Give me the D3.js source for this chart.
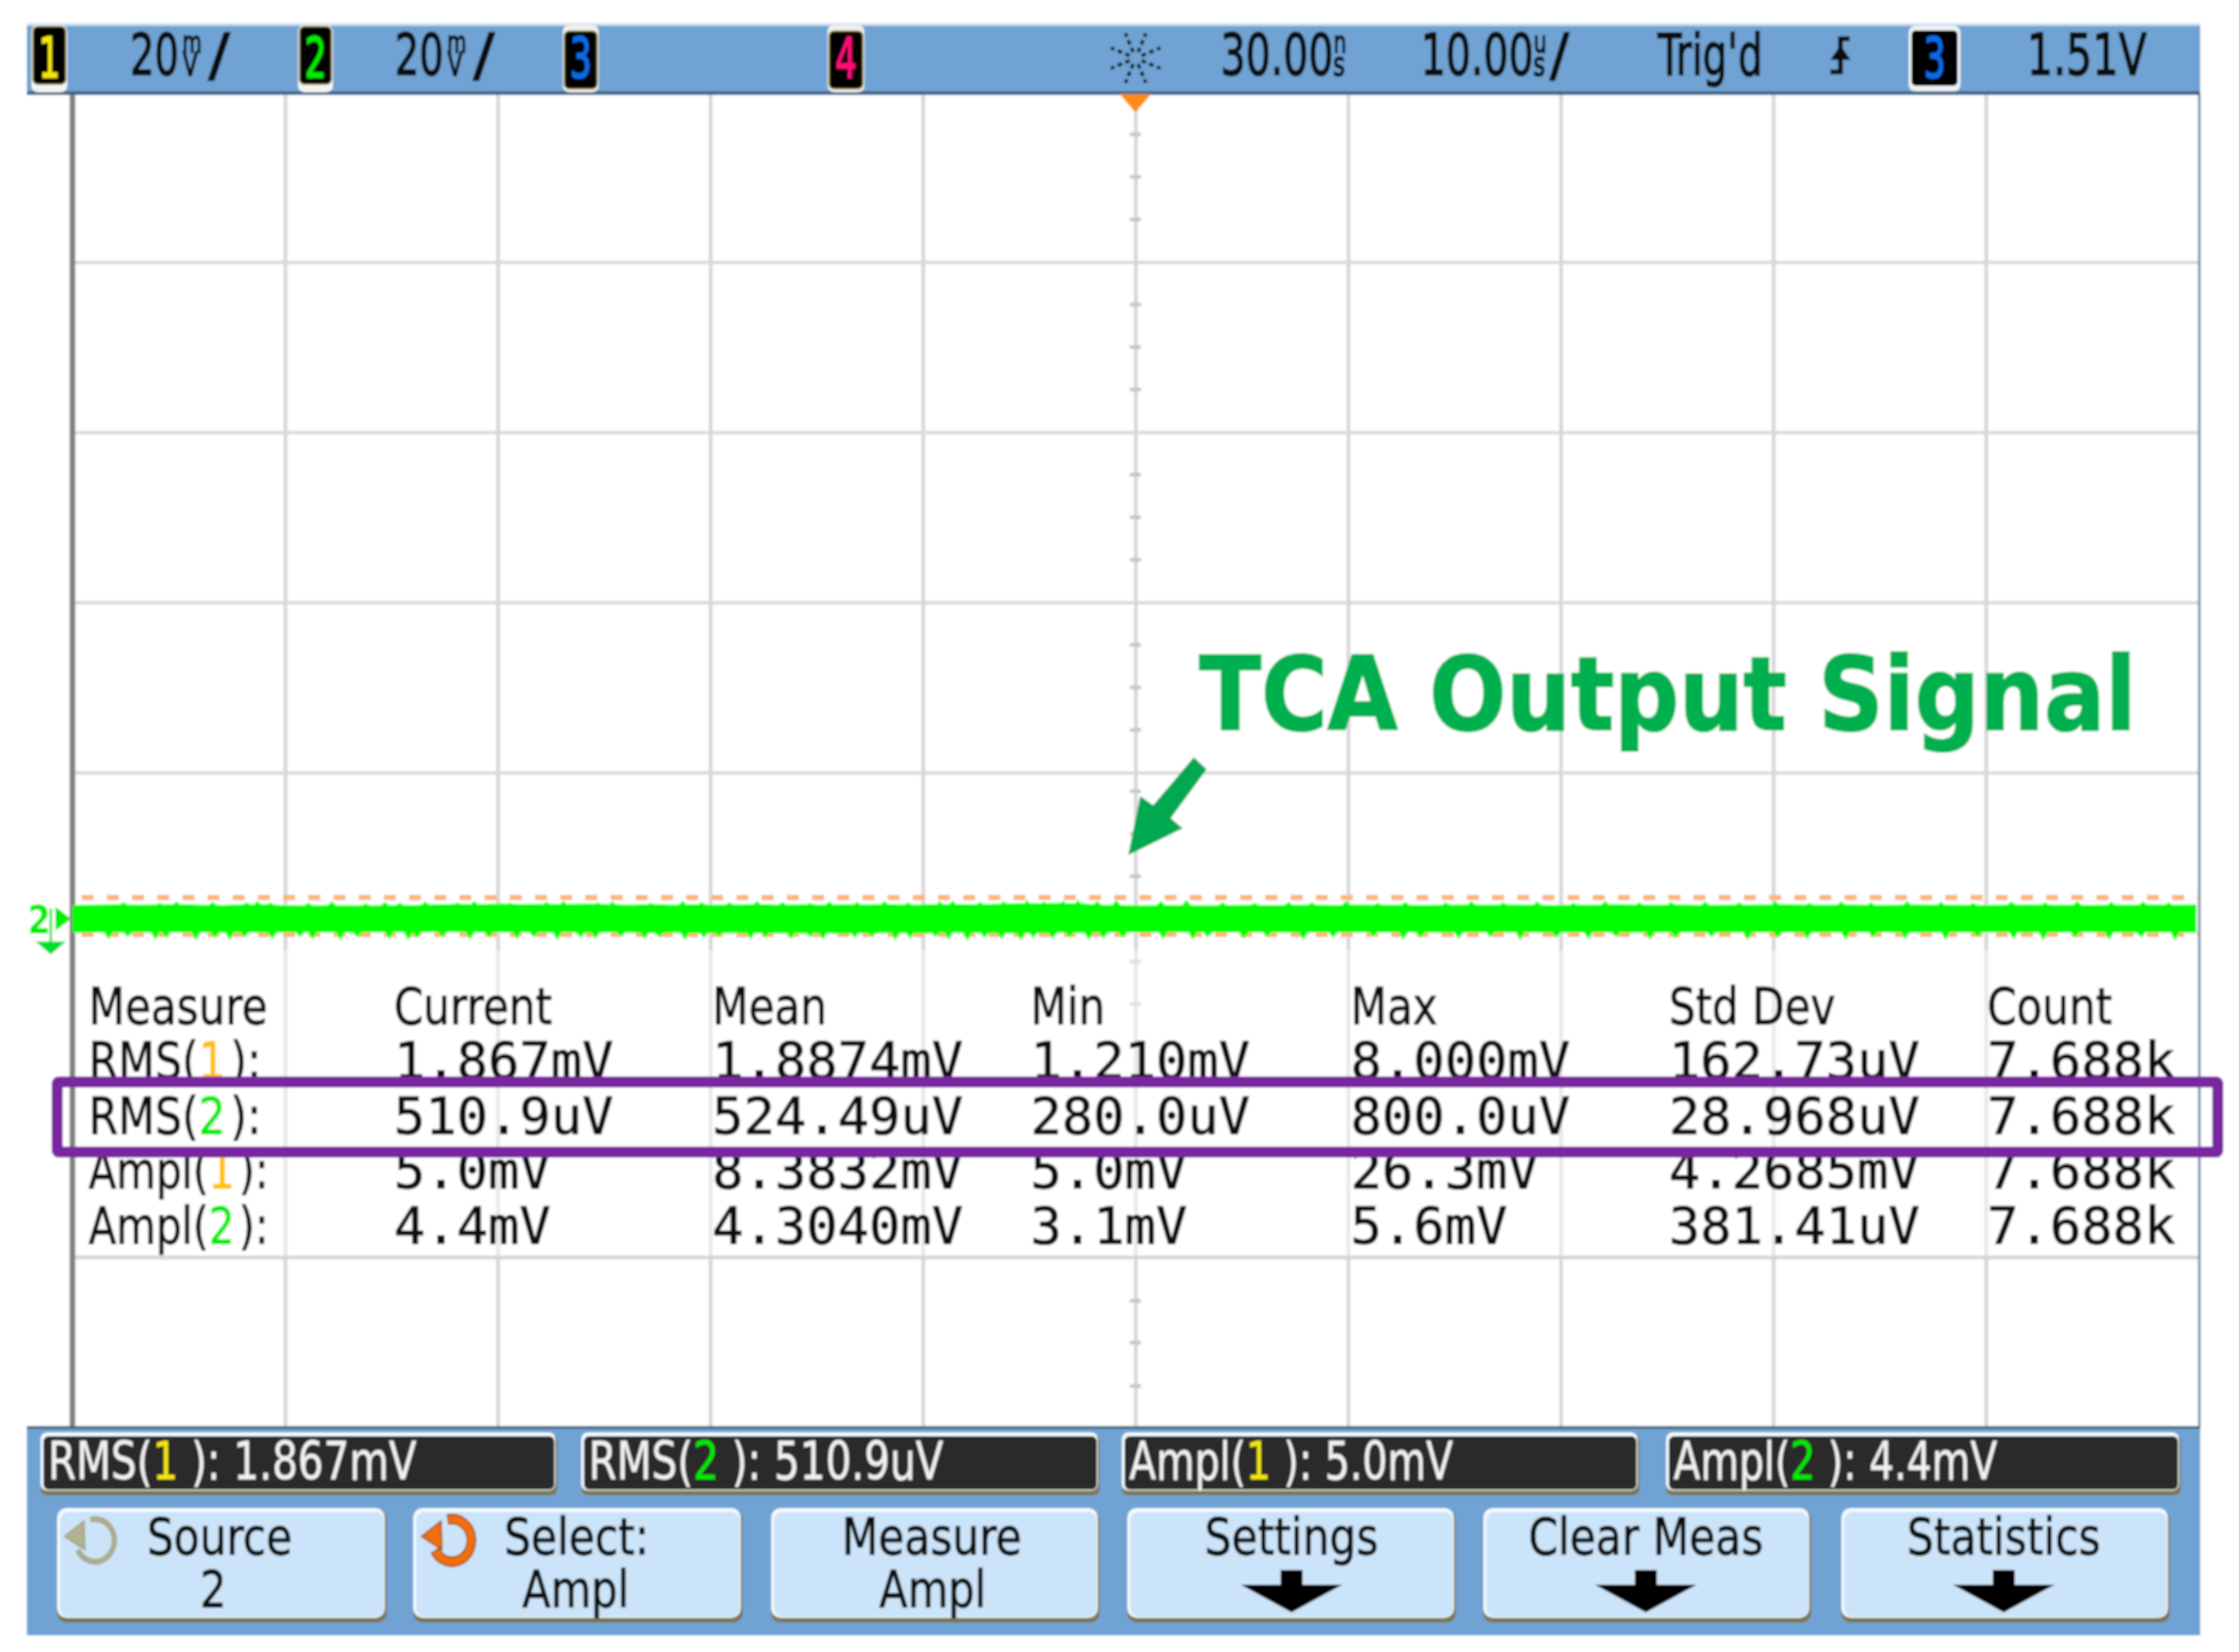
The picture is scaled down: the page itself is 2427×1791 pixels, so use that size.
<!DOCTYPE html>
<html><head><meta charset="utf-8">
<script src="https://cdn.jsdelivr.net/npm/d3@7"></script>
<style>html,body{margin:0;background:#fff}svg{display:block}</style>
</head><body><svg id="c" width="2427" height="1791"></svg>
<script>
// ---- Data ----
const tableHeaders = ["Measure","Current","Mean","Min","Max","Std Dev","Count"];
const rowFunctions = ["RMS","RMS","Ampl","Ampl"];
const rowChannels = ["1","2","1","2"];
const currentValues = ["1.867mV","510.9uV","5.0mV","4.4mV"];
const meanValues = ["1.8874mV","524.49uV","8.3832mV","4.3040mV"];
const minValues = ["1.210mV","280.0uV","5.0mV","3.1mV"];
const maxValues = ["8.000mV","800.0uV","26.3mV","5.6mV"];
const stdDevValues = ["162.73uV","28.968uV","4.2685mV","381.41uV"];
const countValues = ["7.688k","7.688k","7.688k","7.688k"];
const softkeyLine1 = ["Source","Select:","Measure","Settings","Clear Meas","Statistics"];
const softkeyLine2 = ["2","Ampl","Ampl","","",""];
const gridTimes = [-40,-30,-20,-10,0,10,20,30,40];
const gridLevels = [20,40,60,80];
const centerTickLevels = [95,90,85,75,70,65,55,50,45,35,30,25,17.8,12.8,7.8,2.8,-2.2,-7.2,-42.1,-47,-52.1];
const tableRuleLevel = -37;
const traceRefLevel = 2.82;
const cursorHigh = 5.31, cursorLow = 0.98;
// channel 2 noise envelope, mV from its reference, left to right across the screen
const traceUpper = [1.62,1.66,1.7,1.64,1.68,1.72,1.66,1.62,1.68,1.7,
 1.6,1.58,1.6,1.56,1.58,1.6,1.62,1.7,1.76,1.72,
 1.78,1.72,1.76,1.74,1.8,1.72,1.66,1.72,1.66,1.7,
 1.64,1.68,1.72,1.66,1.7,1.66,1.7,1.68,1.72,1.66,
 1.7,1.74,1.7,1.76,1.82,1.84,1.86,1.82,1.66,1.6,
 1.58,1.62,1.6,1.58,1.62,1.64,1.6,1.64,1.66,1.62,
 1.68,1.64,1.66,1.62,1.66,1.68,1.64,1.68,1.66,1.62,
 1.66,1.64,1.7,1.66,1.64,1.68,1.62,1.66,1.64,1.68,
 1.7,1.66,1.64,1.68,1.62,1.64,1.68,1.66,1.64,1.62,
 1.66,1.68,1.64,1.66,1.62,1.66,1.64,1.68,1.66,1.68];
const traceLower = [-1.66,-1.62,-1.66,-1.64,-1.6,-1.64,-1.62,-1.66,-1.62,-1.66,
 -1.64,-1.6,-1.62,-1.66,-1.6,-1.56,-1.6,-1.58,-1.56,-1.6,
 -1.62,-1.6,-1.66,-1.62,-1.68,-1.64,-1.66,-1.7,-1.66,-1.72,
 -1.7,-1.68,-1.74,-1.7,-1.76,-1.72,-1.78,-1.72,-1.68,-1.72,
 -1.7,-1.66,-1.68,-1.72,-1.76,-1.7,-1.66,-1.68,-1.62,-1.6,
 -1.62,-1.58,-1.62,-1.6,-1.64,-1.6,-1.62,-1.66,-1.62,-1.6,
 -1.64,-1.62,-1.6,-1.64,-1.66,-1.62,-1.6,-1.64,-1.62,-1.66,
 -1.64,-1.6,-1.62,-1.66,-1.62,-1.64,-1.6,-1.66,-1.62,-1.6,
 -1.64,-1.66,-1.62,-1.6,-1.64,-1.62,-1.66,-1.6,-1.62,-1.64,
 -1.6,-1.66,-1.62,-1.64,-1.6,-1.62,-1.66,-1.62,-1.64,-1.66];
// isolated noise spikes: time (us) and reach (mV)
const upperSpikeTimes = [-47.6,-45.9,-45.1,-43.4,-41.8,-41.3,-40.7,-38.9,-37.8,-36.2,-35.3,-34.6,-33.4,-31.9,-31.1,-29.4,-27.7,-26.9,-25.3,-24.6,-22.8,-21.3,-20.4,-19.1,-17.8,-16.6,-15.3,-14.4,-13.1,-11.8,-10.7,-9.2,-8.6,-7.3,-6.2,-5.1,-4.3,-3.4,-2.7,-1.8,-0.9,1.2,2.4,4.1,5.6,7.2,8.3,9.9,11.4,12.7,14.6,15.8,17.3,18.9,20.6,22.1,23.7,25.2,26.8,28.4,30.1,31.7,33.2,34.6,36.3,37.9,39.4,41.2,42.8,44.3,45.9,47.4,48.6];
const upperSpikeReach = [2.0,1.9,2.05,2.0,1.95,2.1,1.95,1.9,2.05,1.85,2.0,1.9,2.05,1.95,2.1,1.9,2.0,2.1,1.95,2.05,1.9,2.15,2.0,1.95,2.1,2.0,1.9,2.05,2.0,2.1,1.95,2.05,2.15,2.0,2.1,2.2,2.05,2.15,2.25,2.1,2.2,2.1,2.25,1.95,1.9,2.0,1.95,2.1,1.9,2.0,1.95,2.1,1.95,2.05,1.9,2.1,1.95,2.0,2.05,1.95,2.1,1.9,2.05,1.95,2.1,2.0,1.9,2.05,1.95,2.1,2.0,2.05,1.95];
const lowerSpikeTimes = [-48.3,-47.4,-46.1,-45.6,-44.2,-43.3,-42.6,-41.9,-40.6,-39.3,-38.7,-37.4,-36.6,-35.1,-34.2,-33.8,-32.6,-31.3,-30.4,-29.1,-28.3,-27.2,-26.1,-25.4,-24.2,-23.1,-22.4,-21.2,-20.3,-19.6,-18.1,-17.4,-16.2,-15.3,-14.7,-13.2,-12.4,-11.3,-10.6,-9.4,-8.8,-7.9,-7.1,-6.3,-5.4,-4.8,-3.9,-3.1,-2.2,-1.5,-0.6,1.3,2.7,3.4,5.1,6.2,7.9,9.3,11.2,12.6,13.4,15.2,16.7,18.1,19.8,21.3,22.6,24.2,25.4,27.1,28.8,30.2,31.6,33.4,34.7,36.2,38.1,39.6,41.3,42.7,44.2,45.8,47.3,48.9];
const lowerSpikeReach = [-2.45,-2.2,-2.5,-2.3,-2.6,-2.3,-2.55,-2.25,-2.45,-2.2,-2.5,-2.6,-2.25,-2.4,-2.55,-2.3,-2.2,-2.5,-2.25,-2.4,-2.2,-2.55,-2.3,-2.45,-2.15,-2.4,-2.25,-2.55,-2.3,-2.15,-2.45,-2.25,-2.4,-2.2,-2.5,-2.3,-2.15,-2.6,-2.35,-2.2,-2.5,-2.65,-2.3,-2.45,-2.6,-2.3,-2.4,-2.25,-2.55,-2.4,-2.3,-2.4,-2.5,-2.25,-2.45,-2.2,-2.55,-2.3,-2.15,-2.5,-2.3,-2.4,-2.2,-2.55,-2.3,-2.45,-2.2,-2.5,-2.35,-2.2,-2.55,-2.3,-2.4,-2.5,-2.25,-2.4,-2.55,-2.2,-2.45,-2.6,-2.3,-2.5,-2.25,-2.55];

// ---- Scales ----
const x = d3.scaleLinear().domain([-50,50]).range([78.5,2383]);
const y = d3.scaleLinear().domain([0,80]).range([1022,284]);
const sampleTime = d3.scaleLinear().domain([0,traceUpper.length-1]).range([-50,49.9]);

const svg = d3.select('#c');
const defs = svg.append('defs');
const f = defs.append('filter').attr('id','soft').attr('filterUnits','userSpaceOnUse')
  .attr('x',0).attr('y',0).attr('width',2427).attr('height',1791);
f.append('feGaussianBlur').attr('stdDeviation',0.9);
defs.append('clipPath').attr('id','outsideBox').append('path')
  .attr('d','M0 0H2427V1167H0Z M0 1255H2427V1791H0Z');
const root = svg.append('g').attr('filter','url(#soft)');
root.append('rect').attr('width',2427).attr('height',1791).attr('fill','#fff');

const SANS = '"DejaVu Sans", sans-serif', MONO = '"DejaVu Sans Mono", monospace';
function txt(g,px,py,parts,o={}){
  const fill=o.fill||'#111';
  const t = g.append('text')
    .attr('transform',`translate(${px},${py}) scale(${o.sx||1},1)`)
    .attr('font-family',o.family||SANS).attr('font-size',o.size||55)
    .attr('font-weight',o.weight||'normal').attr('text-anchor',o.anchor||'start')
    .attr('fill',fill).style('white-space','pre');
  const w = o.bold===undefined?0.9:o.bold;
  if(w) t.attr('stroke',fill).attr('stroke-width',w);
  (Array.isArray(parts)?parts:[[parts,null]]).forEach(([s,c,a])=>{
    const sp=t.append('tspan').text(s);
    if(c){ sp.attr('fill',c); if(w) sp.attr('stroke',c); }
    if(a) Object.entries(a).forEach(([k,v])=>sp.attr(k,v));
  });
  return t;
}
function bevel(g,x0,y0,x1,y1,fill,rx,edge='#7d7650'){
  g.append('rect').attr('x',x0).attr('y',y0+2).attr('width',x1-x0).attr('height',y1-y0-2).attr('rx',rx).attr('fill',edge);
  g.append('rect').attr('x',x0).attr('y',y0).attr('width',x1-x0-2).attr('height',y1-y0-5).attr('rx',rx).attr('fill','#f6fbff');
  g.append('rect').attr('x',x0+3).attr('y',y0+4).attr('width',x1-x0-6).attr('height',y1-y0-10).attr('rx',rx-1).attr('fill',fill);
}

// ---- Graticule ----
const gridV = root.append('g').attr('transform','translate(0,102)')
  .call(d3.axisBottom(x).tickValues(gridTimes).tickSize(1446).tickFormat(''));
gridV.select('.domain').remove();
gridV.selectAll('line').attr('stroke','#d6d6d6').attr('stroke-width',4);
const gridH = root.append('g').attr('transform',`translate(${x(-50)},0)`)
  .call(d3.axisRight(y).tickValues(gridLevels).tickSize(x(50)-x(-50)).tickFormat(''));
gridH.select('.domain').remove();
gridH.selectAll('line').attr('stroke','#d8d8d8').attr('stroke-width',3.5);
root.append('g').selectAll('line').data(centerTickLevels).join('line')
  .attr('x1',x(0)-6).attr('x2',x(0)+6).attr('y1',d=>y(d)).attr('y2',d=>y(d))
  .attr('stroke','#c6c6c6').attr('stroke-width',4);
root.append('rect').attr('x',x(-50)+4).attr('y',1030).attr('width',x(50)-x(-50)-8).attr('height',y(tableRuleLevel)-1030)
  .attr('fill','#fff').attr('opacity',0.45);
root.append('line').attr('x1',x(-50)).attr('x2',x(50)).attr('y1',y(tableRuleLevel)).attr('y2',y(tableRuleLevel))
  .attr('stroke','#d4d4d4').attr('stroke-width',4);
root.append('line').attr('x1',x(-50)).attr('x2',x(-50)).attr('y1',102).attr('y2',1548).attr('stroke','#808080').attr('stroke-width',6);
root.append('line').attr('x1',x(50)+1).attr('x2',x(50)+1).attr('y1',102).attr('y2',1548).attr('stroke','#5d7f9f').attr('stroke-width',2.5);

// ---- Cursors and trace ----
[cursorHigh,cursorLow].forEach(v=>{
  root.append('line').attr('x1',x(-50)+10).attr('x2',x(50)).attr('y1',y(v)).attr('y2',y(v))
   .attr('stroke','#ffb27a').attr('stroke-width',5.5).attr('stroke-dasharray','13 14.3');
});
const area = d3.area().x((d,i)=>x(sampleTime(i))).y0((d,i)=>y(traceRefLevel+traceLower[i])).y1(d=>y(traceRefLevel+d));
root.append('path').datum(traceUpper).attr('d',area).attr('fill','#00ff00');
function spikes(times,reach,base){
  root.append('g').selectAll('path').data(times).join('path')
    .attr('d',(t,i)=>`M${x(t)-5} ${y(traceRefLevel+base)}L${x(t)} ${y(traceRefLevel+reach[i])}L${x(t)+5} ${y(traceRefLevel+base)}Z`)
    .attr('fill','#00ff00');
}
spikes(upperSpikeTimes,upperSpikeReach,1.55);
spikes(lowerSpikeTimes,lowerSpikeReach,-1.55);

// channel 2 marker
txt(root,30,1012,'2',{size:42,sx:.85,fill:'#00ee00',weight:'bold',bold:0});
root.append('path').attr('d','M60 983L77 996L60 1009Z').attr('fill','#00ee00');
root.append('path').attr('d','M55 985V1022M42 1022H68L55 1033Z').attr('stroke','#00dd33').attr('stroke-width',2.5).attr('fill','#00dd33');

// ---- Measurement table ----
const tableX = [96,427,772,1117,1464,1809,2154];
const tableBase = [1169,1229,1288,1348];
tableHeaders.forEach((h,i)=>txt(root,tableX[i],1110,h,{size:55,sx:.83}));
const chanColor = {"1":'#ffc000',"2":'#00ee00'};
const columns = [currentValues,meanValues,minValues,maxValues,stdDevValues,countValues];
rowFunctions.forEach((fn,r)=>{
  const g = root.append('g');
  if(r===0||r===2) g.attr('clip-path','url(#outsideBox)');
  txt(g,tableX[0],tableBase[r],[[fn+'(',null],[rowChannels[r],chanColor[rowChannels[r]]],['):',null,{dx:6}]],{size:55,sx:fn==='RMS'?.84:.8});
  columns.forEach((col,c)=>txt(g,tableX[c+1],tableBase[r],col[r],{size:55,sx:1.027,family:MONO}));
});
root.append('rect').attr('x',62).attr('y',1173).attr('width',2342).attr('height',76)
  .attr('fill','none').attr('stroke','#7a28a0').attr('stroke-width',12).attr('rx',2);

// ---- Annotation ----
txt(root,1300,791,'TCA Output Signal',{size:110,weight:'bold',sx:.893,fill:'#00b050',bold:2});
root.append('path').attr('d','M1223 927L1236 863L1250 873L1294 821L1308 834L1269 887L1282 898Z').attr('fill','#00a850');

// ---- Top status bar ----
root.append('rect').attr('x',29).attr('y',27).attr('width',2356).attr('height',75).attr('fill','#6fa3d3');
root.append('rect').attr('x',29).attr('y',25).attr('width',2356).attr('height',3).attr('fill','#cfe0f0');
root.append('rect').attr('x',29).attr('y',99).attr('width',2356).attr('height',4).attr('fill','#3f6488');
const badges = [[34,73,'1','#f4e60a'],[323,361,'2','#00f000'],[610,649,'3','#0a6ce8'],[897,937,'4','#ff0a78']];
badges.forEach(([a,b,s,c],i)=>{
  root.append('rect').attr('x',a).attr('y',27).attr('width',b-a).attr('height',73).attr('rx',7).attr('fill',i<2?'#f4f4f0':'#f0f0ea');
  root.append('rect').attr('x',a+2).attr('y',i<2?29:34).attr('width',b-a-4).attr('height',62).attr('rx',5).attr('fill','#000').attr('stroke','#6b5f20').attr('stroke-width',1.5);
  txt(root,(a+b)/2,84,s,{size:60,sx:.62,anchor:'middle',fill:c,bold:1.5});
});
const H={size:62,fill:'#0d0d0d',bold:1.6};
function unitValue(px,val,top,bot,sx,gap){
  txt(root,px,81,[[val,null],[top,null,{'font-size':32,dy:-24,dx:gap}],[bot,null,{'font-size':36,dy:25,dx:-(top==='m'?31:21)}]],{...H,sx});
}
unitValue(141,'20','m','V',.67,6); txt(root,226,81,'/',{...H,sx:1.1});
unitValue(428,'20','m','V',.67,6); txt(root,513,81,'/',{...H,sx:1.1});
unitValue(1323,'30.00','n','s',.69,0);
unitValue(1540,'10.00','u','s',.69,0); txt(root,1680,81,'/',{...H,sx:1.0});
txt(root,1797,81,"Trig'd",{...H,sx:.68});
txt(root,2197,81,'1.51V',{...H,sx:.72});
// Keysight star
d3.range(8).forEach(k=>{
  const a=k*Math.PI/4+Math.PI/8;
  root.append('line').attr('x1',1231+7*Math.cos(a)).attr('y1',63+7*Math.sin(a)).attr('x2',1231+29*Math.cos(a)).attr('y2',63+29*Math.sin(a))
    .attr('stroke','#111').attr('stroke-width',3.6).attr('stroke-dasharray','5 4');
});
root.append('path').attr('d','M2005 42H1995V78H1984').attr('fill','none').attr('stroke','#111').attr('stroke-width',5);
root.append('path').attr('d','M1984 65L2006 65L1995 49Z').attr('fill','#111');
root.append('rect').attr('x',2069).attr('y',28).attr('width',56).attr('height',71).attr('rx',7).attr('fill','#eef2f6');
root.append('rect').attr('x',2072).attr('y',33).attr('width',50).attr('height',60).attr('rx',5).attr('fill','#000');
txt(root,2097,84,'3',{size:60,sx:.62,anchor:'middle',fill:'#0a6ce8',bold:1.5});
root.append('path').attr('d',`M${x(0)-17} 102H${x(0)+17}L${x(0)} 122Z`).attr('fill','#ff8a14');

// ---- Bottom panel ----
root.append('rect').attr('x',29).attr('y',1548).attr('width',2356).attr('height',225).attr('fill','#6fa3d3');
root.append('rect').attr('x',29).attr('y',1546).attr('width',2356).attr('height',3).attr('fill','#46617a');
const readouts = [[44,604,0],[630,1192,1],[1216,1777,2],[1806,2364,3]];
readouts.forEach(([a,b,i])=>{
  bevel(root,a,1553,b,1621,'#2b2b2b',7,'#7d7650');
  const ch=rowChannels[i];
  txt(root,a+8,1604,[[rowFunctions[i]+'(',null],[ch,ch==='1'?'#f4e60a':'#00ee00'],[' ): '+currentValues[i],null]],{size:57,sx:rowFunctions[i]==='RMS'?.77:.75,fill:'#f2f2f2',bold:0.3});
});
const keys = [[62,419,238,231],[448,805,625,624],[836,1192,1010,1011],[1222,1578,1400],[1608,1963,1784],[1996,2352,2172]];
keys.forEach(([a,b,c1,c2],i)=>{
  bevel(root,a,1635,b,1759,'#cce4f9',10);
  txt(root,c1,1685,softkeyLine1[i],{size:55,sx:.835,anchor:'middle'});
  if(softkeyLine2[i]) txt(root,c2,1742,softkeyLine2[i],{size:55,sx:.82,anchor:'middle'});
  else root.append('path').attr('d',`M${c1-12} 1702H${c1+12}V1718H${c1+55}L${c1} 1748L${c1-55} 1718H${c1-12}Z`).attr('fill','#000');
});
function knob(cx,color,w,outline){
  const arc=d3.arc().innerRadius(21-w/2).outerRadius(21+w/2).startAngle(-0.2).endAngle(4.2);
  const g=root.append('g').attr('transform',`translate(${cx},1670) scale(1,1.1)`);
  g.append('path').attr('d',arc()).attr('fill',color).attr('stroke',outline).attr('stroke-width',1.5);
  g.append('path').attr('d','M-33 -4L-12 -19L-11 9Z').attr('fill',color).attr('stroke',outline).attr('stroke-width',1.5);
}
knob(103,'#b2b292',4,'#a0a080');
knob(490,'#f0700f',9,'#a84800');
</script></body></html>
